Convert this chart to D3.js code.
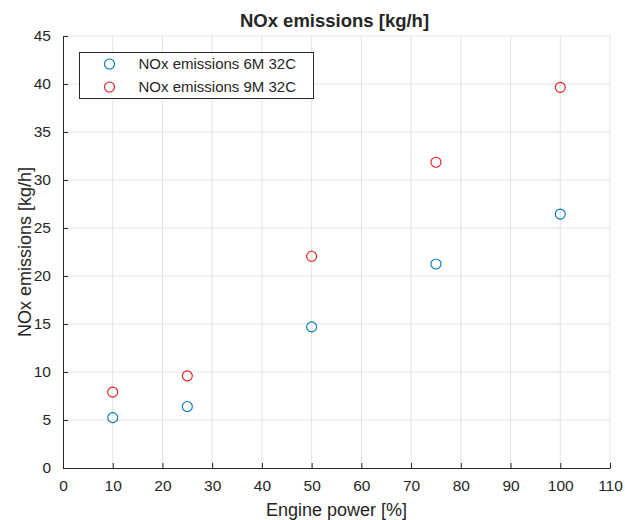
<!DOCTYPE html>
<html>
<head>
<meta charset="utf-8">
<script src="https://cdn.jsdelivr.net/npm/d3@7"></script>
<style>
  body { margin: 0; background: #fff; }
  svg text { font-family: "Liberation Sans", Arial, sans-serif; fill: #262626; }
</style>
</head>
<body>
<svg id="chart" width="625" height="520"></svg>
<script>
// data
const powers = [10, 25, 50, 75, 100];
const nox6M = [5.25, 6.4, 14.7, 21.25, 26.45];
const nox9M = [7.9, 9.6, 22.05, 31.85, 39.65];
const seriesNames = ["NOx emissions 6M 32C", "NOx emissions 9M 32C"];
const xTicks = d3.range(0, 111, 10);
const yTicks = d3.range(0, 46, 5);

const svg = d3.select("#chart");
const margin = { top: 36, right: 15, bottom: 52, left: 63 };
const width = 625 - margin.left - margin.right;
const height = 520 - margin.top - margin.bottom;

const g = svg.append("g").attr("transform", `translate(${margin.left},${margin.top})`);

const x = d3.scaleLinear().domain([0, 110]).range([0, width]);
const y = d3.scaleLinear().domain([0, 45]).range([height, 0]);

// grid
g.append("g").selectAll("line").data(xTicks.slice(1)).join("line")
  .attr("x1", d => x(d)).attr("x2", d => x(d))
  .attr("y1", 0).attr("y2", height)
  .attr("stroke", "#e3e3e3").attr("stroke-width", 1);
g.append("g").selectAll("line").data(yTicks.slice(1)).join("line")
  .attr("x1", 0).attr("x2", width)
  .attr("y1", d => y(d)).attr("y2", d => y(d))
  .attr("stroke", "#e3e3e3").attr("stroke-width", 1);

// axes
const xAxis = g.append("g")
  .attr("transform", `translate(0,${height})`)
  .call(d3.axisBottom(x).tickValues(xTicks).tickSizeInner(-5).tickSizeOuter(0).tickPadding(12));
const yAxis = g.append("g")
  .call(d3.axisLeft(y).tickValues(yTicks).tickSizeInner(-5).tickSizeOuter(0).tickPadding(12));
[xAxis, yAxis].forEach(a => {
  a.select(".domain").attr("stroke", "#262626");
  a.selectAll(".tick line").attr("stroke", "#262626");
  a.selectAll("text").style("font-size", "15.5px").style("font-family", "Liberation Sans, Arial, sans-serif").attr("fill", "#262626");
});

// points
const colors = ["#0072BD", "#E8141B"];
[nox6M, nox9M].forEach((vals, i) => {
  g.append("g").selectAll("circle").data(powers).join("circle")
    .attr("cx", d => x(d))
    .attr("cy", (d, j) => y(vals[j]))
    .attr("r", 5)
    .attr("fill", "none")
    .attr("stroke", colors[i])
    .attr("stroke-width", 1.1);
});

// title and labels
svg.append("text")
  .attr("x", margin.left + width / 2 - 2).attr("y", 27)
  .attr("text-anchor", "middle")
  .style("font-size", "18.5px").style("font-weight", "bold")
  .text("NOx emissions [kg/h]");
svg.append("text")
  .attr("x", margin.left + width / 2).attr("y", 516)
  .attr("text-anchor", "middle")
  .style("font-size", "18px")
  .text("Engine power [%]");
svg.append("text")
  .attr("transform", `translate(31,${margin.top + height / 2}) rotate(-90)`)
  .attr("text-anchor", "middle")
  .style("font-size", "18px")
  .text("NOx emissions [kg/h]");

// legend
const legend = svg.append("g").attr("transform", "translate(79.5,52.5)");
legend.append("rect")
  .attr("width", 234).attr("height", 46)
  .attr("fill", "#fff").attr("stroke", "#262626").attr("stroke-width", 1);
seriesNames.forEach((name, i) => {
  legend.append("circle")
    .attr("cx", 30).attr("cy", 11.5 + i * 23)
    .attr("r", 5).attr("fill", "none")
    .attr("stroke", colors[i]).attr("stroke-width", 1.1);
  legend.append("text")
    .attr("x", 59).attr("y", 16.5 + i * 23)
    .style("font-size", "15px")
    .text(name);
});
</script>
</body>
</html>
